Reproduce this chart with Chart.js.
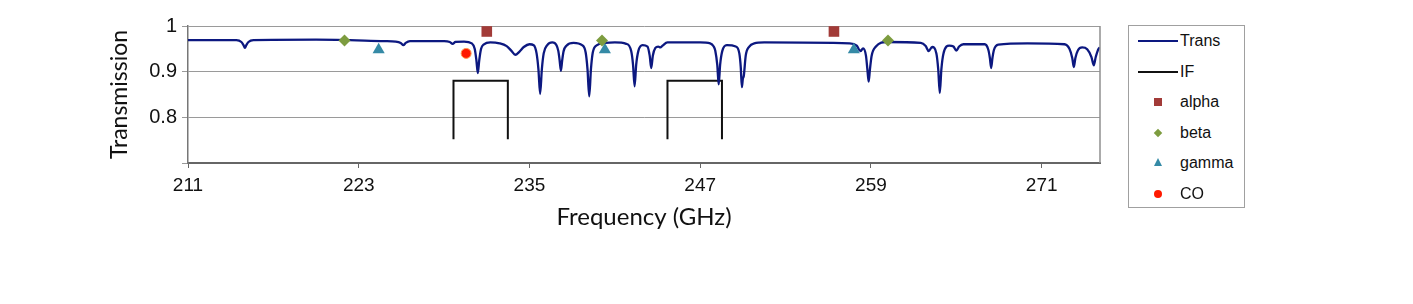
<!DOCTYPE html>
<html lang="en">
<head>
<meta charset="UTF-8">
<title>Transmission vs Frequency</title>
<script src="https://cdn.jsdelivr.net/npm/chart.js"></script>
<style>
    body { margin: 0; background: #fff; }
    .wrap { position: relative; width: 1413px; height: 304px; }
    .legenda {
        position: absolute; left: 1128px; top: 25px; width: 115px; height: 181px;
        border: 1px solid #a0a0a0; background: #fff;
        font-family: 'Liberation Sans', Arial, sans-serif; font-size: 16px; color: #111;
    }
    .item { position: relative; height: 30.5px; line-height: 30.5px; }
    .item .txt { position: absolute; left: 51px; top: 0; }
    .item .linha { position: absolute; left: 9px; width: 40px; height: 2px; top: 14px; }
    .item .mk { position: absolute; }
</style>
</head>
<body>
<div class="wrap">
    <canvas id="grafico"></canvas>
    <div class="legenda">
        <div class="item"><div class="linha" style="background:#0c1880"></div><span class="txt">Trans</span></div>
        <div class="item"><div class="linha" style="background:#111"></div><span class="txt">IF</span></div>
        <div class="item"><div class="mk" style="left:25px;top:11px;width:8px;height:8px;background:#a23b38"></div><span class="txt">alpha</span></div>
        <div class="item"><div class="mk" style="left:26px;top:12px;width:6px;height:6px;background:#7d9c3f;transform:rotate(45deg)"></div><span class="txt">beta</span></div>
        <div class="item"><div class="mk" style="left:25px;top:10px;width:0;height:0;border-left:4.5px solid transparent;border-right:4.5px solid transparent;border-bottom:8px solid #358aa6"></div><span class="txt">gamma</span></div>
        <div class="item"><div class="mk" style="left:25px;top:11px;width:8px;height:8px;border-radius:50%;background:#ff1a00"></div><span class="txt">CO</span></div>
    </div>
</div>

<script>
    // atmospheric transmission curve
    const transFreq = [
        211.0, 214.4, 214.75, 214.9, 215.0, 215.1, 215.25, 215.6, 220.0, 224.8,
        225.6, 225.95, 226.14, 226.3, 226.6, 229.0, 229.4, 229.6, 229.8, 230.4,
        230.95, 231.15, 231.27, 231.37, 231.47, 231.6, 231.8, 232.25, 232.9, 233.4,
        233.75, 234.0, 234.3, 234.6, 235.0, 235.3, 235.5, 235.63, 235.75, 235.87,
        236.0, 236.25, 236.6, 236.9, 237.03, 237.12, 237.21, 237.3, 237.4, 237.6,
        238.1, 238.7, 238.95, 239.08, 239.2, 239.32, 239.45, 239.75, 240.3, 241.0,
        241.8, 242.15, 242.28, 242.39, 242.5, 242.65, 242.95, 243.3, 243.45, 243.56,
        243.67, 243.85, 244.05, 244.2, 244.35, 244.7, 247.0, 247.7, 247.95, 248.06,
        248.2, 248.3, 248.4, 248.55, 248.87, 249.5, 249.75, 249.85, 249.93, 250.0,
        250.06, 250.2, 250.45, 250.8, 251.5, 257.5, 258.0, 258.26, 258.45, 258.65,
        258.75, 258.84, 258.93, 259.05, 259.35, 260.1, 262.5, 262.85, 263.06, 263.3,
        263.6, 263.73, 263.84, 263.95, 264.1, 264.5, 264.8, 265.0, 265.2, 265.5,
        267.0, 267.25, 267.36, 267.45, 267.54, 267.65, 267.95, 270.0, 272.6, 272.95,
        273.15, 273.26, 273.37, 273.55, 273.85, 274.2, 274.5, 274.66, 274.8, 275.0,
        275.1
    ];
    const transValues = [
        0.969, 0.969, 0.965, 0.958, 0.952, 0.958, 0.965, 0.969, 0.970, 0.967,
        0.966, 0.963, 0.958, 0.963, 0.967, 0.967, 0.965, 0.961, 0.965, 0.966,
        0.962, 0.950, 0.925, 0.897, 0.925, 0.950, 0.960, 0.964, 0.962, 0.956,
        0.945, 0.937, 0.944, 0.954, 0.960, 0.958, 0.940, 0.905, 0.851, 0.905,
        0.940, 0.958, 0.964, 0.958, 0.945, 0.925, 0.902, 0.925, 0.945, 0.957,
        0.963, 0.958, 0.942, 0.905, 0.846, 0.905, 0.942, 0.958, 0.963, 0.964,
        0.961, 0.945, 0.915, 0.868, 0.915, 0.945, 0.958, 0.955, 0.935, 0.908,
        0.935, 0.952, 0.955, 0.953, 0.957, 0.964, 0.964, 0.962, 0.955, 0.946,
        0.915, 0.872, 0.915, 0.945, 0.958, 0.955, 0.940, 0.910, 0.866, 0.885,
        0.890, 0.935, 0.955, 0.962, 0.964, 0.962, 0.957, 0.945, 0.951, 0.935,
        0.905, 0.878, 0.905, 0.935, 0.955, 0.965, 0.963, 0.956, 0.945, 0.954,
        0.940, 0.905, 0.853, 0.905, 0.940, 0.957, 0.955, 0.946, 0.955, 0.960,
        0.960, 0.948, 0.930, 0.908, 0.930, 0.948, 0.959, 0.962, 0.960, 0.950,
        0.930, 0.910, 0.930, 0.947, 0.953, 0.949, 0.932, 0.914, 0.932, 0.950,
        0.953
    ];

    // IF bands (null = break between the two boxes)
    const ifFreq = [229.66, 229.66, 233.48, 233.48, 239.0, 244.7, 244.7, 248.53, 248.53];
    const ifValues = [0.752, 0.88, 0.88, 0.752, null, 0.752, 0.88, 0.88, 0.752];

    const alphaFreq = [232.0, 256.4];
    const alphaValues = [0.988, 0.988];
    const betaFreq = [222.0, 240.1, 260.2];
    const betaValues = [0.968, 0.968, 0.968];
    const gammaFreq = [224.4, 240.3, 257.8];
    const gammaValues = [0.948, 0.948, 0.948];
    const coFreq = [230.55];
    const coValues = [0.94];

    const xTicks = [211, 223, 235, 247, 259, 271];
    const yTicks = [0.7, 0.8, 0.9, 1.0];
    const yTickLabels = ['', '0.8', '0.9', '1'];

    function pares(xs, ys) {
        return xs.map((x, i) => ({ x: x, y: ys[i] }));
    }

    // right border of the plot area
    const bordaDireita = {
        id: 'bordaDireita',
        afterDraw(chart) {
            const a = chart.chartArea;
            const ctx = chart.ctx;
            ctx.save();
            ctx.strokeStyle = '#8f8f8f';
            ctx.lineWidth = 1.5;
            ctx.beginPath();
            ctx.moveTo(a.right, a.top);
            ctx.lineTo(a.right, a.bottom);
            ctx.stroke();
            ctx.restore();
        }
    };

    const data = {
        datasets: [
            {
                label: 'alpha', data: pares(alphaFreq, alphaValues), order: 0,
                pointStyle: 'rect', pointRadius: 7.5, backgroundColor: '#a23b38', borderColor: '#a23b38', borderWidth: 0
            },
            {
                label: 'beta', data: pares(betaFreq, betaValues), order: 0,
                pointStyle: 'rectRot', pointRadius: 6, backgroundColor: '#7d9c3f', borderColor: '#7d9c3f', borderWidth: 0
            },
            {
                label: 'gamma', data: pares(gammaFreq, gammaValues), order: 0,
                pointStyle: 'triangle', pointRadius: 7, backgroundColor: '#358aa6', borderColor: '#358aa6', borderWidth: 0
            },
            {
                label: 'CO', data: pares(coFreq, coValues), order: 0,
                pointStyle: 'circle', pointRadius: 5, backgroundColor: '#ff1a00', borderColor: '#ff9a50', borderWidth: 1
            },
            {
                label: 'Trans', data: pares(transFreq, transValues), order: 1,
                showLine: true, pointRadius: 0, borderColor: '#0c1880', borderWidth: 2.3,
                cubicInterpolationMode: 'monotone'
            },
            {
                label: 'IF', data: pares(ifFreq, ifValues), order: 2,
                showLine: true, pointRadius: 0, borderColor: '#111', borderWidth: 2, spanGaps: false
            }
        ]
    };

    const config = {
        type: 'scatter',
        data: data,
        plugins: [bordaDireita],
        options: {
            responsive: true,
            maintainAspectRatio: false,
            animation: false,
            layout: { padding: { left: 0, top: 26, right: 313, bottom: 71 } },
            plugins: {
                legend: { display: false },
                tooltip: { enabled: false }
            },
            scales: {
                x: {
                    type: 'linear', min: 211, max: 275.1,
                    afterBuildTicks: (s) => { s.ticks = xTicks.map(v => ({ value: v })); },
                    afterFit: (s) => { s.height = 70; },
                    ticks: {
                        padding: 6, color: '#111', maxRotation: 0, autoSkip: false,
                        font: { family: "'Liberation Sans', Arial, sans-serif", size: 19 },
                        callback: (v) => String(v)
                    },
                    grid: { display: true, drawOnChartArea: false, drawTicks: true, tickLength: 5, color: '#666' },
                    border: { display: true, color: '#666', width: 2 },
                    title: {
                        display: true, text: 'Frequency (GHz)', color: '#111',
                        font: { family: 'Lato, sans-serif', size: 24 },
                        padding: { top: 0, bottom: 1 }
                    }
                },
                y: {
                    min: 0.7, max: 1.0,
                    afterBuildTicks: (s) => { s.ticks = yTicks.map(v => ({ value: v })); },
                    afterFit: (s) => { s.width = 188; },
                    ticks: {
                        padding: 5, color: '#111',
                        font: { family: "'Liberation Sans', Arial, sans-serif", size: 20 },
                        callback: (v, i) => yTickLabels[i]
                    },
                    grid: { color: '#9a9a9a', lineWidth: 1, drawTicks: true, tickLength: 6 },
                    border: { display: true, color: '#777', width: 1.5 },
                    title: {
                        display: true, text: 'Transmission', color: '#111',
                        font: { family: 'Lato, sans-serif', size: 23 },
                        padding: { top: 106, bottom: 0 }
                    }
                }
            }
        }
    };

    let myChart = new Chart(document.getElementById('grafico'), config);
</script>
</body>
</html>
